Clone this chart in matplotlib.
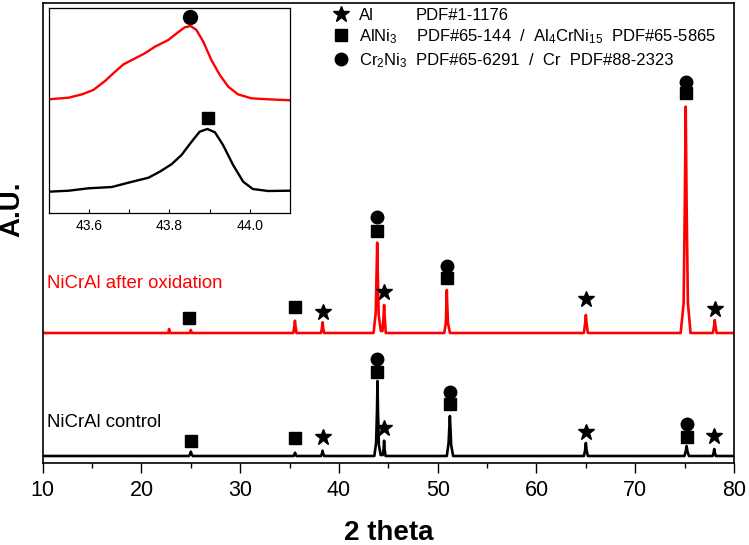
import matplotlib
matplotlib.use("Agg")
import matplotlib.pyplot as plt
from matplotlib.ticker import MultipleLocator, FixedLocator

plt.rcParams['font.family'] = ['Liberation Sans', 'DejaVu Sans']
plt.rcParams['mathtext.fontset'] = 'custom'
plt.rcParams['mathtext.rm'] = 'Liberation Sans'
plt.rcParams['mathtext.it'] = 'Liberation Sans'
plt.rcParams['mathtext.default'] = 'regular'

# ---------------- data (2 theta vs intensity, arbitrary units) ----------------
control_x = [10, 24.8, 24.93, 25.0, 25.07, 25.2,
             35.4, 35.49, 35.55, 35.61, 35.7,
             38.18, 38.28, 38.34, 38.4, 38.5,
             43.58, 43.76, 43.85, 43.9, 43.95, 44.04, 44.22,
             44.43, 44.52, 44.57, 44.62, 44.72,
             50.92, 51.1, 51.18, 51.23, 51.28, 51.36, 51.56,
             64.8, 64.93, 65.0, 65.07, 65.2,
             74.98, 75.12, 75.2, 75.28, 75.44,
             77.84, 77.94, 78.0, 78.06, 78.16, 80]
control_y = [7, 7, 9, 11.3, 9, 7,
             7, 8.5, 10.3, 8.5, 7,
             7, 9.5, 12.3, 9.5, 7,
             7, 20, 52, 82, 52, 18, 8,
             8, 14, 22.3, 14, 7,
             7, 20, 37, 47, 37, 18, 7,
             7, 13, 20, 13, 7,
             7, 12, 17, 12, 7,
             7, 10.5, 14, 10.5, 7, 7]

oxid_x = [10, 22.72, 22.8, 22.88,
          24.9, 25.0, 25.1,
          35.38, 35.47, 35.54, 35.61, 35.7,
          38.18, 38.28, 38.34, 38.4, 38.5,
          43.5, 43.72, 43.81, 43.87, 43.93, 44.02, 44.24,
          44.41, 44.51, 44.57, 44.63, 44.74,
          50.66, 50.82, 50.88, 50.92, 50.96, 51.04, 51.24,
          64.8, 64.93, 65.0, 65.07, 65.2,
          74.6, 74.9, 75.02, 75.11, 75.2, 75.33, 75.6,
          77.86, 77.98, 78.05, 78.12, 78.24, 80]
oxid_y = [130, 130, 134, 130,
          130, 133, 130,
          130, 136, 142.3, 136, 130,
          130, 135, 140.7, 135, 130,
          130, 150, 190, 220.3, 190, 148, 132,
          132, 146, 158, 146, 130,
          130, 140, 160, 173, 160, 140, 130,
          130, 140, 148, 140, 130,
          130, 160, 260, 356.3, 260, 160, 130,
          130, 137, 143, 137, 130, 130]

# phase markers: (2theta, height) for each series
star_ctrl_x = [38.34, 44.6, 65.0, 78.0]
star_ctrl_y = [25.7, 35.3, 31, 27]
sq_ctrl_x = [24.98, 35.54, 43.9, 51.23, 75.2]
sq_ctrl_y = [22.3, 24.7, 91.3, 59, 26]
circ_ctrl_x = [43.9, 51.23, 75.2]
circ_ctrl_y = [104, 71.3, 39]

star_ox_x = [38.34, 44.57, 65.0, 78.05]
star_ox_y = [150.7, 171.3, 164, 154]
sq_ox_x = [24.84, 35.54, 43.87, 50.92, 75.1]
sq_ox_y = [144.7, 156.3, 232.3, 184.7, 370]
circ_ox_x = [43.87, 50.92, 75.1]
circ_ox_y = [245.7, 197.3, 381]

# inset (zoom of the 43.5-44.1 region)
inset_ox_x = [43.500, 43.550, 43.583, 43.611, 43.640, 43.665, 43.686, 43.715, 43.739,
              43.764, 43.797, 43.818, 43.838, 43.853, 43.867, 43.884, 43.904, 43.925,
              43.946, 43.970, 44.003, 44.045, 44.100]
inset_ox_y = [114, 115.6, 119, 123.3, 132.3, 141.6, 149, 155, 160,
              166.6, 173.3, 180, 186, 187.3, 183.3, 171.6, 153.3, 138.3,
              126.6, 119, 115, 114, 113]
inset_ctrl_x = [43.500, 43.550, 43.599, 43.657, 43.698, 43.748, 43.776, 43.805, 43.830,
                43.855, 43.875, 43.894, 43.913, 43.933, 43.958, 43.983, 44.007, 44.045,
                44.100]
inset_ctrl_y = [21.6, 22.6, 25, 26.3, 30.6, 35.6, 41.6, 49, 58.3,
                71.6, 81.6, 84.3, 81, 68.3, 48.3, 31.6, 24.3, 22.3,
                22.6]
inset_circ = (43.852, 196.6)
inset_sq = (43.896, 95)

xticks = [10, 20, 30, 40, 50, 60, 70, 80]
inset_xticks = [43.6, 43.8, 44.0]
inset_minor = [43.7, 43.9]

legend_rows = [("*", "Al", "PDF#1-1176"),
               ("s", "AlNi$_3$", "PDF#65-144  /  Al$_4$CrNi$_{15}$  PDF#65-5865"),
               ("o", "Cr$_2$Ni$_3$", "PDF#65-6291  /  Cr  PDF#88-2323")]

# ---------------- figure ----------------
W, H = 749, 545
fig = plt.figure(figsize=(W / 100, H / 100), dpi=100)
ax = fig.add_axes([42.7 / W, 1 - 463 / H, (734 - 42.7) / W, (463 - 3) / H])

ax.plot(oxid_x, oxid_y, color='#ff0000', lw=1.9, solid_joinstyle='round')
ax.plot(control_x, control_y, color='black', lw=1.9, solid_joinstyle='round')

mk = dict(color='black', linestyle='none')
ax.plot(star_ctrl_x, star_ctrl_y, marker='*', ms=12, **mk)
ax.plot(star_ox_x, star_ox_y, marker='*', ms=12, **mk)
ax.plot(sq_ctrl_x, sq_ctrl_y, marker='s', ms=8, **mk)
ax.plot(sq_ox_x, sq_ox_y, marker='s', ms=8, **mk)
ax.plot(circ_ctrl_x, circ_ctrl_y, marker='o', ms=9, **mk)
ax.plot(circ_ox_x, circ_ox_y, marker='o', ms=9, **mk)

ax.set_xlim(10, 80)
ax.set_ylim(0, 460)
ax.set_xticks(xticks)
ax.xaxis.set_minor_locator(MultipleLocator(5))
ax.tick_params(axis='x', which='major', direction='out', length=7, width=1,
               labelsize=15.5, pad=5)
ax.tick_params(axis='x', which='minor', direction='out', length=3.5, width=1)
ax.tick_params(axis='y', left=False, labelleft=False)
for s in ax.spines.values():
    s.set_linewidth(1.2)

ax.set_xlabel("2 theta", fontsize=20, fontweight='bold', labelpad=14)
fig.text(12 / W, 1 - 209.5 / H, "A.U.", rotation=90, fontsize=20, fontweight='bold',
         ha='center', va='center')

fig.text(47 / W, 1 - 283.3 / H, "NiCrAl after oxidation",
         color='#ff0000', fontsize=13.4, va='center', ha='left')
fig.text(47 / W, 1 - 422.7 / H, "NiCrAl control",
         color='black', fontsize=13.4, va='center', ha='left')

# legend (manual)
row_y = [14, 35, 59]
for (m, name, pdf), yy in zip(legend_rows, row_y):
    yf = 1 - yy / H
    yb = 1 - (yy + 6) / H
    ms = {'*': 12, 's': 8, 'o': 9}[m]
    fig.lines.append(plt.Line2D([341 / W], [yf], marker=m, ms=ms, color='black',
                                linestyle='none', transform=fig.transFigure))
    fig.text(359 / W, yb, name, fontsize=12, va='baseline', ha='left')
    fig.text(416 / W, yb, pdf, fontsize=12, va='baseline', ha='left')

# inset
ins = fig.add_axes([48.6 / W, 1 - 213.3 / H, (290.3 - 48.6) / W, (213.3 - 8) / H])
ins.plot(inset_ox_x, inset_ox_y, color='#ff0000', lw=1.7, solid_joinstyle='round')
ins.plot(inset_ctrl_x, inset_ctrl_y, color='black', lw=1.7, solid_joinstyle='round')
ins.plot([inset_circ[0]], [inset_circ[1]], marker='o', ms=10, **mk)
ins.plot([inset_sq[0]], [inset_sq[1]], marker='s', ms=8.5, **mk)
ins.set_xlim(43.5, 44.1)
ins.set_ylim(0, 205.3)
ins.set_xticks(inset_xticks)
ins.set_xticklabels([f"{v:.1f}" for v in inset_xticks])
ins.xaxis.set_minor_locator(FixedLocator(inset_minor))
ins.tick_params(axis='x', which='both', direction='in', length=3, width=0.8,
                labelsize=10, pad=4)
ins.tick_params(axis='y', left=False, labelleft=False)
for s in ins.spines.values():
    s.set_linewidth(0.9)

fig.savefig("out.png", dpi=100)
